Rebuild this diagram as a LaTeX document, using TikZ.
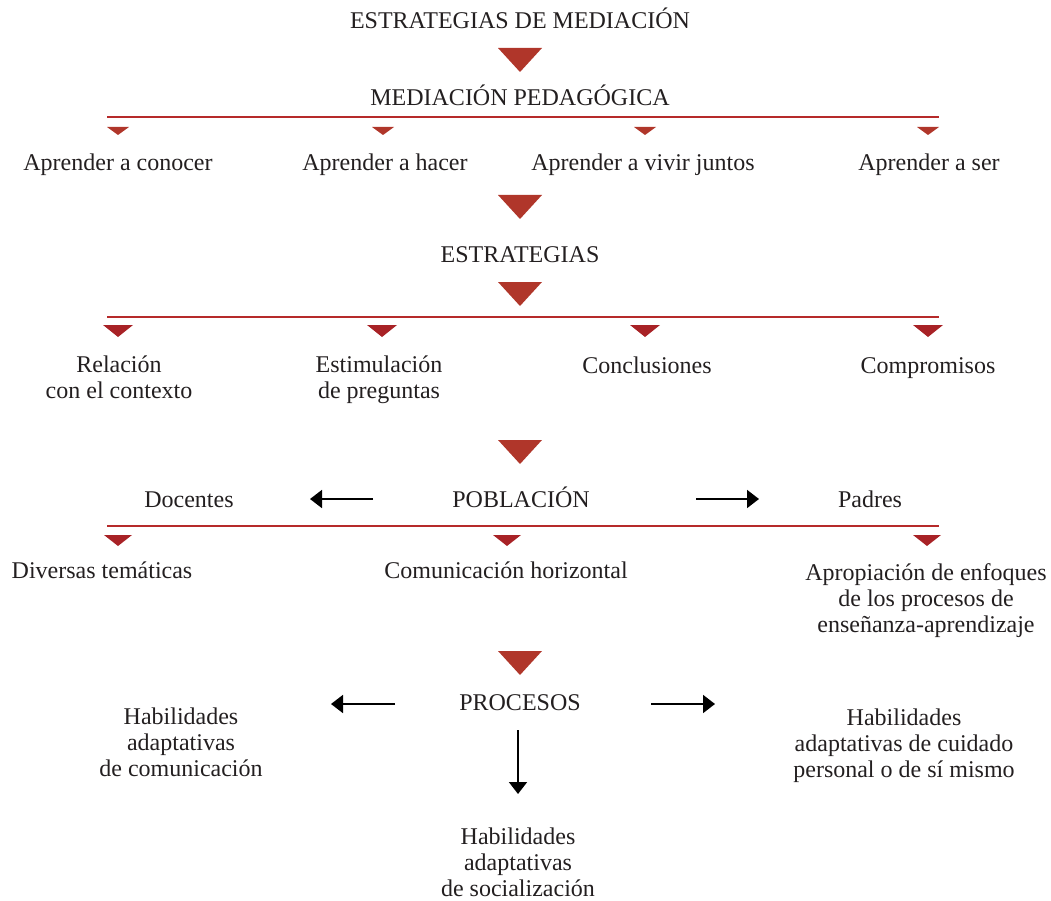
\documentclass[tikz,border=0pt]{standalone}
\usepackage{fontspec}
\setmainfont{Liberation Serif}
\usetikzlibrary{arrows.meta}
\definecolor{tri}{RGB}{176,54,42}
\definecolor{trid}{RGB}{168,34,38}
\definecolor{rl}{RGB}{182,42,42}
\definecolor{ink}{RGB}{35,31,32}
\newcommand\BigTri[2]{\fill[tri] (#1-22,#2) -- (#1+22,#2) -- (#1,#2+24) -- cycle;}
\newcommand\SmTri[5]{\fill[#5] (#1-#3,#2) -- (#1+#3,#2) -- (#1,#2+#4) -- cycle;}
\begin{document}
\begin{tikzpicture}[x=1pt,y=-1pt,
  lbl/.style={font=\fontsize{24}{26}\selectfont, text=ink, inner sep=0pt, anchor=base, align=center},
  redline/.style={draw=rl, line width=2pt},
  arr/.style={draw=black, line width=1.8pt, -{Triangle[length=12pt,width=18pt]}}]
\useasboundingbox (0,0) rectangle (1051,901);
% level 1
\node[lbl] (t1) at (520,29) {ESTRATEGIAS DE MEDIACIÓN};
\BigTri{520}{48}
\node[lbl] (t2) at (520,106) {MEDIACIÓN PEDAGÓGICA};
\draw[redline] (107,117) coordinate (l1a) -- (939,117) coordinate (l1b);
\SmTri{118}{127}{11}{8}{tri}
\SmTri{383}{127}{11}{8}{tri}
\SmTri{645}{127}{11}{8}{tri}
\SmTri{928}{127}{11}{8}{tri}
\node[lbl] (a1) at (118,171) {Aprender a conocer};
\node[lbl] (a2) at (385,171) {Aprender a hacer};
\node[lbl] (a3) at (643,171) {Aprender a vivir juntos};
\node[lbl] (a4) at (929,171) {Aprender a ser};
\BigTri{520}{195}
\node[lbl] (t3) at (520,262) {ESTRATEGIAS};
\BigTri{520}{282}
\draw[redline] (107,317) coordinate (l2a) -- (939,317) coordinate (l2b);
\SmTri{118}{325}{15}{12}{trid}
\SmTri{382}{325}{15}{12}{trid}
\SmTri{645}{325}{15}{12}{trid}
\SmTri{928}{325}{15}{12}{trid}
\node[lbl] (e1) at (119,398) {Relación\\con el contexto};
\node[lbl] (e2) at (379,398) {Estimulación\\de preguntas};
\node[lbl] (e3) at (647,373) {Conclusiones};
\node[lbl] (e4) at (928,373) {Compromisos};
\BigTri{520}{440}
\node[lbl] (pob) at (521,507) {POBLACIÓN};
\node[lbl] (doc) at (189,507) {Docentes};
\node[lbl] (pad) at (870,507) {Padres};
\coordinate (pl1) at (373,499); \coordinate (pl2) at (310,499);
\coordinate (pr1) at (696,499); \coordinate (pr2) at (759,499);
\draw[arr] (pl1) -- (pl2);
\draw[arr] (pr1) -- (pr2);
\draw[redline] (107,526) coordinate (l3a) -- (939,526) coordinate (l3b);
\SmTri{118}{535}{14}{11}{trid}
\SmTri{507}{535}{14}{11}{trid}
\SmTri{927}{535}{14}{11}{trid}
\node[lbl] (p1) at (102,578) {Diversas temáticas};
\node[lbl] (p2) at (506,578) {Comunicación horizontal};
\node[lbl] (p3) at (926,632) {Apropiación de enfoques\\de los procesos de\\enseñanza-aprendizaje};
\BigTri{520}{651}
\node[lbl] (pro) at (520,710) {PROCESOS};
\coordinate (ql1) at (395,704); \coordinate (ql2) at (331,704);
\coordinate (qr1) at (651,704); \coordinate (qr2) at (715,704);
\coordinate (qd1) at (518,730); \coordinate (qd2) at (518,794);
\draw[arr] (ql1) -- (ql2);
\draw[arr] (qr1) -- (qr2);
\draw[arr] (qd1) -- (qd2);
\node[lbl] (h1) at (181,776) {Habilidades\\adaptativas\\de comunicación};
\node[lbl] (h2) at (904,777) {Habilidades\\adaptativas de cuidado\\personal o de sí mismo};
\node[lbl] (h3) at (518,896) {Habilidades\\adaptativas\\de socialización};
\end{tikzpicture}
\end{document}
